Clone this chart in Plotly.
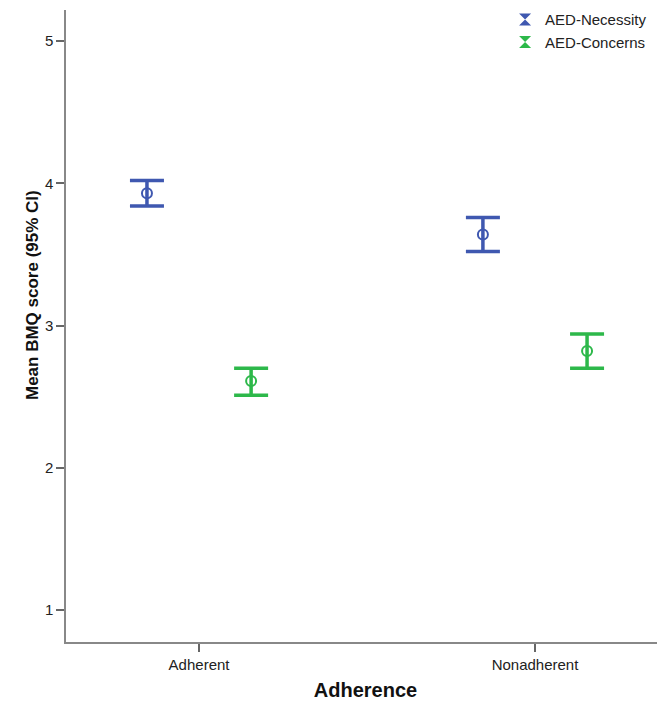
import plotly.graph_objects as go

categories = ["Adherent", "Nonadherent"]
series_names = ["AED-Necessity", "AED-Concerns"]
necessity_mean = [3.93, 3.64]
necessity_upper = [4.02, 3.76]
necessity_lower = [3.84, 3.52]
concerns_mean = [2.61, 2.82]
concerns_upper = [2.70, 2.94]
concerns_lower = [2.51, 2.70]
y_ticks = [1, 2, 3, 4, 5]

colors = ["#3F58B0", "#2DB84A"]
offset = 0.155

fig = go.Figure()
series = [
    (necessity_mean, necessity_upper, necessity_lower),
    (concerns_mean, concerns_upper, concerns_lower),
]
for i, (m, up, lo) in enumerate(series):
    sign = -1 if i == 0 else 1
    xs = [k + sign * offset for k in range(len(categories))]
    fig.add_trace(go.Scatter(
        x=xs, y=m, mode="markers", showlegend=False,
        marker=dict(symbol="circle-open", size=10, color=colors[i], line=dict(width=2, color=colors[i])),
        error_y=dict(type="data", symmetric=False,
                     array=[u - v for u, v in zip(up, m)],
                     arrayminus=[v - l for v, l in zip(m, lo)],
                     color=colors[i], thickness=3.5, width=17),
    ))
    fig.add_trace(go.Scatter(
        x=[None], y=[None], mode="markers", name=series_names[i],
        marker=dict(symbol="hourglass", size=12, color=colors[i]),
    ))

fig.update_layout(
    width=657, height=693,
    margin=dict(l=58, r=0, t=2, b=59, autoexpand=False),
    paper_bgcolor="white", plot_bgcolor="white",
    font=dict(family="Liberation Sans, Arial, sans-serif", size=15, color="#222"),
    legend=dict(x=0.733, y=1.0105, xanchor="left", yanchor="top",
                font=dict(size=15, color="#222"), bgcolor="rgba(0,0,0,0)",
                itemwidth=30, tracegroupgap=0),
    xaxis=dict(range=[-0.396, 1.387], tickvals=list(range(len(categories))), ticktext=categories,
               showgrid=False, zeroline=False, showline=True, linecolor="#888", linewidth=1.5,
               ticks="outside", ticklen=8, tickwidth=1.5, tickcolor="#666",
               tickfont=dict(size=15, color="#222"),
               title=dict(text="<b>Adherence</b>", font=dict(size=20, color="#111"), standoff=11)),
    yaxis=dict(range=[0.775, 5.218], tickvals=y_ticks,
               showgrid=False, zeroline=False, showline=True, linecolor="#888", linewidth=1.5,
               ticks="outside", ticklen=8, tickwidth=1.5, tickcolor="#666",
               tickfont=dict(size=15, color="#222")),
    annotations=[dict(text="<b>Mean BMQ score (95% CI)</b>", textangle=-90,
                      xref="paper", yref="paper", x=-0.0568, y=0.549,
                      xanchor="center", yanchor="middle", showarrow=False,
                      font=dict(size=17, color="#111"))],
)

fig.write_html("out.html")
